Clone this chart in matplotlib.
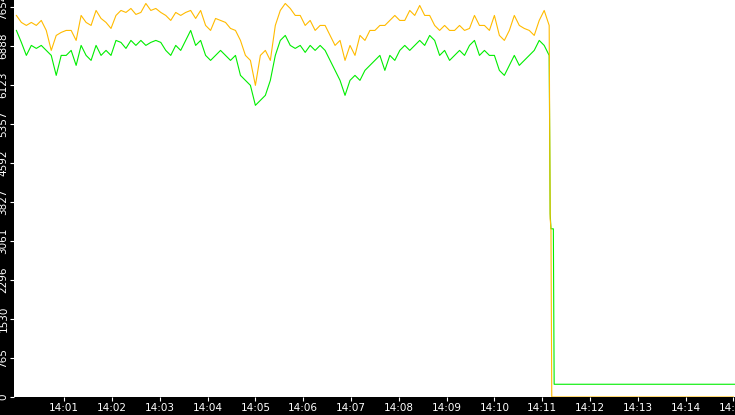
import numpy as np
import matplotlib
matplotlib.use("Agg")
import matplotlib.pyplot as plt

orange = [7487,7350,7291,7350,7291,7389,7193,6801,7095,7154,7193,7193,6997,7487,7350,7291,7585,7428,7350,7232,
          7487,7585,7546,7624,7507,7546,7722,7585,7624,7546,7487,7389,7546,7487,7546,7585,7428,7585,7291,7193,
          7428,7389,7350,7232,7193,6997,6703,6605,6115,6703,6801,6605,7291,7585,7722,7624,7487,
          7487,7291,7389,7193,7291,7291,7095,6899,6997,6605,6899,6703,7095,6997,7193,7193,7291,7291,7389,7487,
          7389,7389,7585,7487,7683,7487,7487,7291,7193,7291,7193,7193,7291,7193,7232,7487,7291,7291,7193,7487,
          7095,6997,7193,7487,7291,7232,7193,7095,7389,7585,7291]
green = [7193,6958,6703,6899,6840,6899,6801,6703,6311,6703,6703,6801,6507,6899,6703,6605,6899,6703,6801,6703,
         6997,6958,6840,6997,6899,6997,6899,6958,6997,6958,6801,6703,6899,6801,6997,7193,6899,6997,6703,6605,
         6703,6801,6703,6605,6703,6311,6213,6115,5723,5821,5919,6213,6703,6997,7095,6899,6840,
         6899,6762,6899,6801,6899,6801,6605,6409,6213,5919,6213,6311,6213,6409,6507,6605,6703,6409,6703,6605,
         6801,6899,6801,6899,6997,6899,7095,6997,6703,6801,6605,6703,6801,6703,6899,6997,6703,6801,6703,6703,
         6409,6311,6507,6703,6507,6605,6703,6801,6997,6899,6703]
orange_tail_t = [670, 671, 672, 900]
orange_tail_v = [3500, 3300, 0, 0]
green_tail_t = [670, 671, 674, 675, 905]
green_tail_v = [3600, 3300, 3300, 250, 250]
yticks = [0, 765, 1530, 2296, 3061, 3827, 4592, 5357, 6123, 6888, 7654]
xtick_labels = ["14:01","14:02","14:03","14:04","14:05","14:06","14:07","14:08","14:09","14:10","14:11","14:12","14:13","14:14","14:15"]

step = 6.25
t_o = list(np.arange(len(orange)) * step) + orange_tail_t
v_o = orange + orange_tail_v
t_g = list(np.arange(len(green)) * step) + green_tail_t
v_g = green + green_tail_v

fig = plt.figure(figsize=(7.35, 4.15), dpi=100, facecolor="black")
ax = fig.add_axes([14/735, 18/415, 1 - 14/735, 1 - 18/415])
ax.set_facecolor("white")
ax.plot(t_g, v_g, color="#00ee00", lw=0.8)
ax.plot(t_o, v_o, color="#ffbb00", lw=0.8)
ax.set_xlim(-3, 902)
ax.set_ylim(0, 7790)
ax.set_yticks(yticks)
ax.set_yticklabels([str(v) for v in yticks], rotation=90, va="center")
ax.set_xticks([60*(i+1) for i in range(len(xtick_labels))])
ax.set_xticklabels(xtick_labels)
ax.tick_params(colors="white", labelsize=7.5, length=3, pad=1)
for s in ax.spines.values():
    s.set_visible(False)
fig.savefig("out.png", dpi=100, facecolor="black")
